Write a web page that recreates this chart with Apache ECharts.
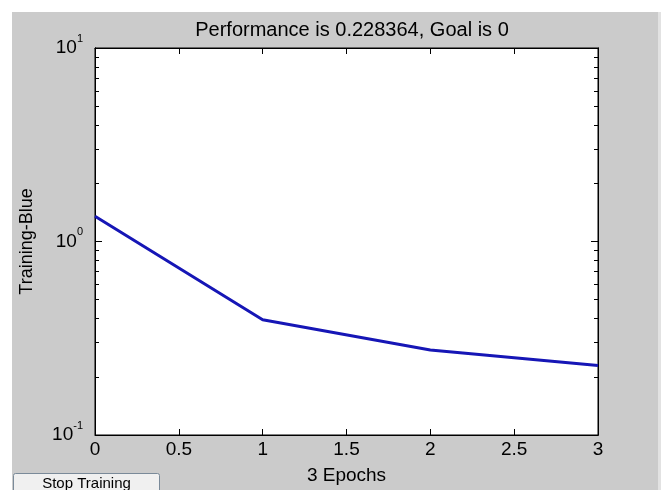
<!DOCTYPE html>
<html>
<head>
<meta charset="utf-8">
<script src="https://cdn.jsdelivr.net/npm/echarts@6/dist/echarts.min.js"></script>
<style>
  html, body { margin: 0; padding: 0; background: #fff; }
  #chart { width: 665px; height: 490px; }
</style>
</head>
<body>
<div id="chart"></div>
<script>
// epochs and training performance
const epochs = [0, 1, 2, 3];
const trainingPerf = [1.35, 0.394, 0.275, 0.2284];
const majorTicks = [0.1, 1, 10];
const minorTicks = [0.2, 0.3, 0.4, 0.5, 0.6, 0.7, 0.8, 0.9, 2, 3, 4, 5, 6, 7, 8, 9];

const font = 'Liberation Sans, Arial, sans-serif';
const chart = echarts.init(document.getElementById('chart'));

function logAxis(pos, ticks, len, withLabels) {
  return {
    type: 'log',
    logBase: 10,
    min: 0.1,
    max: 10,
    position: pos,
    axisLine: { show: true, lineStyle: { color: '#000', width: 1 } },
    axisTick: { show: true, inside: true, length: len, customValues: ticks, lineStyle: { color: '#000' } },
    axisLabel: {
      show: withLabels,
      margin: 12,
      customValues: withLabels ? majorTicks : undefined,
      formatter: function (v) {
        return '{b|10}{s|' + Math.round(Math.log10(v)) + '}';
      },
      rich: {
        b: { fontSize: 19, fontFamily: font, color: '#000', lineHeight: 30, verticalAlign: 'middle' },
        s: { fontSize: 11, fontFamily: font, color: '#000', lineHeight: 30, verticalAlign: 'top' }
      }
    },
    splitLine: { show: false },
    minorTick: { show: false }
  };
}

chart.setOption({
  animation: false,
  backgroundColor: '#fff',
  graphic: [
    { type: 'rect', shape: { x: 12, y: 12, width: 646, height: 478 }, style: { fill: '#cbcbcb' }, z: -10 },
    { type: 'rect', shape: { x: 658, y: 12, width: 3, height: 478 }, style: { fill: '#e2e2e2' }, z: -10 },
    {
      type: 'group', left: 13, top: 473,
      children: [
        { type: 'rect', shape: { x: 0, y: 0, width: 146, height: 22, r: 2 }, style: { fill: '#f0f0f0', stroke: '#7a8a99', lineWidth: 1 } },
        { type: 'text', x: 73, y: 10, style: { text: 'Stop Training', fontSize: 15, fontFamily: font, fill: '#000', align: 'center', verticalAlign: 'middle' } }
      ]
    }
  ],
  title: {
    text: 'Performance is 0.228364, Goal is 0',
    left: 347,
    textAlign: 'center',
    top: 15,
    textStyle: { fontSize: 20, fontWeight: 'normal', fontFamily: font, color: '#000' }
  },
  grid: {
    left: 95, top: 48, width: 503, height: 396,
    show: true, backgroundColor: '#fff', borderColor: '#000', borderWidth: 1
  },
  xAxis: [
    {
      type: 'value', min: 0, max: 3, interval: 0.5, position: 'bottom',
      name: '3 Epochs', nameLocation: 'middle', nameGap: 31,
      nameTextStyle: { fontSize: 19, fontFamily: font, color: '#000' },
      axisLine: { lineStyle: { color: '#000' } },
      axisTick: { inside: true, length: 6, lineStyle: { color: '#000' } },
      axisLabel: { fontSize: 19, fontFamily: font, color: '#000', margin: 5 },
      splitLine: { show: false }
    },
    {
      type: 'value', min: 0, max: 3, interval: 0.5, position: 'top',
      axisLine: { lineStyle: { color: '#000' } },
      axisTick: { inside: true, length: 6, lineStyle: { color: '#000' } },
      axisLabel: { show: false },
      splitLine: { show: false }
    }
  ],
  yAxis: [
    Object.assign(logAxis('left', majorTicks, 7, true), {
      name: 'Training-Blue', nameLocation: 'middle', nameGap: 59,
      nameTextStyle: { fontSize: 18, fontFamily: font, color: '#000' }
    }),
    logAxis('left', minorTicks, 4, false),
    logAxis('right', majorTicks, 7, false),
    logAxis('right', minorTicks, 4, false)
  ],
  series: [{
    type: 'line',
    data: epochs.map((e, i) => [e, trainingPerf[i]]),
    showSymbol: false,
    lineStyle: { color: '#1616b6', width: 3 },
    clip: true
  }]
});
</script>
</body>
</html>
